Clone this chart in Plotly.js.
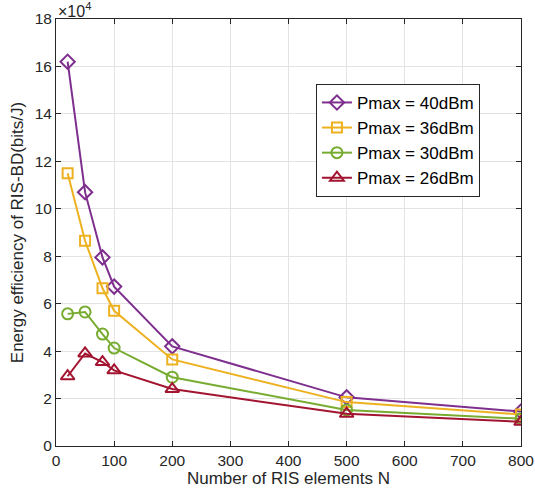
<!DOCTYPE html>
<html><head><meta charset="utf-8">
<script src="https://cdn.plot.ly/plotly-3.0.1.min.js"></script>
<style>body{margin:0;background:#fff}</style>
</head><body>
<div id="chart" style="width:535px;height:499px"></div>
<script>
const N = [20, 50, 80, 100, 200, 500, 800];
const ee40 = [16.2, 10.7, 7.95, 6.72, 4.2, 2.05, 1.45];
const ee36 = [11.5, 8.65, 6.65, 5.7, 3.65, 1.85, 1.33];
const ee30 = [5.57, 5.65, 4.72, 4.13, 2.9, 1.52, 1.15];
const ee26 = [2.94, 3.9, 3.54, 3.19, 2.4, 1.36, 1.02];
const names = ['Pmax = 40dBm', 'Pmax = 36dBm', 'Pmax = 30dBm', 'Pmax = 26dBm'];
const yTicks = [0, 2, 4, 6, 8, 10, 12, 14, 16, 18];
const xTicks = [0, 100, 200, 300, 400, 500, 600, 700, 800];

const series = [ee40, ee36, ee30, ee26];
const colors = ['#7E2F8E', '#EDB120', '#77AC30', '#A2142F'];
const symbols = ['diamond-open', 'square-open', 'circle-open', 'triangle-up-open'];
const sizes = [11, 10, 11, 12];

const traces = series.map((s, i) => ({
  x: N, y: s, name: names[i], type: 'scatter', mode: 'lines+markers',
  line: {color: colors[i], width: 2},
  marker: {symbol: symbols[i], size: sizes[i], color: colors[i], line: {width: 2, color: colors[i]}}
}));

const fam = 'Liberation Sans, Arial, sans-serif';
const tickFont = {family: fam, size: 15.5, color: '#262626'};
const titleFont = {family: fam, size: 17, color: '#262626'};
const layout = {
  width: 535, height: 499,
  margin: {l: 56, r: 14, t: 19, b: 53},
  paper_bgcolor: '#fff', plot_bgcolor: '#fff',
  font: tickFont,
  showlegend: true,
  xaxis: {
    range: [0, 800], tickvals: xTicks, ticks: 'inside', ticklen: 5, tickcolor: '#262626',
    showline: true, linecolor: '#262626', linewidth: 1, mirror: 'ticks',
    showgrid: true, gridcolor: '#e3e3e3', zeroline: false,
    tickfont: tickFont,
    title: {text: 'Number of RIS elements N', font: titleFont, standoff: 4}
  },
  yaxis: {
    range: [0, 18], tickvals: yTicks, ticks: 'inside', ticklen: 5, tickcolor: '#262626',
    showline: true, linecolor: '#262626', linewidth: 1, mirror: 'ticks',
    showgrid: true, gridcolor: '#e3e3e3', zeroline: false,
    tickfont: tickFont,
    title: {text: 'Energy efficiency of RIS-BD(bits/J)', font: titleFont, standoff: 6}
  },
  legend: {
    x: 0.559, y: 0.848, xanchor: 'left', yanchor: 'top',
    bgcolor: '#fff', bordercolor: '#262626', borderwidth: 1,
    font: {family: fam, size: 17, color: '#000'},
    tracegroupgap: 0
  },
  annotations: [{
    xref: 'paper', yref: 'paper', x: 0, y: 1, xanchor: 'left', yanchor: 'bottom', yshift: -3,
    text: '×10<sup>4</sup>', showarrow: false,
    font: {family: fam, size: 16, color: '#262626'}
  }]
};
Plotly.newPlot('chart', traces, layout, {displayModeBar: false, staticPlot: true});
</script>
</body></html>
